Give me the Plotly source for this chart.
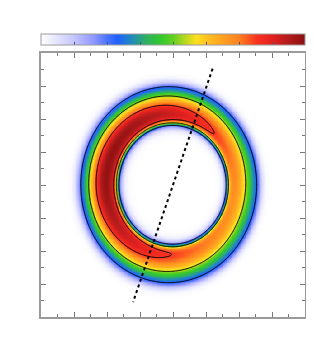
import numpy as np
import plotly.graph_objects as go

# ---- ring field description (data units, axes span -8..8) ----
hole_center = [-0.03, 0.02]      # centre of inner (hole) contour
hole_axes = [3.18, 3.52]         # semi-axes of innermost contour
outer_center = [-0.26, 0.02]     # centre of outer contour
outer_axes = [5.33, 5.94]        # semi-axes of outer contour
peak_angle_deg = [160.0]         # direction of strongest emission
amplitude = [0.856, 0.134]       # mean, angular modulation of peak value
peak_pos = [0.30, 0.07]          # mean, angular modulation of peak radial position
peak_inner_width = [0.6]         # width of profile on the inner side of the peak
rise = [0.066, 0.075, 0.036]     # t0, inner width, outer width of rising edge
halo_width = [0.2]               # extra fall-off outside outer contour
contour_levels = [0.27, 0.54, 0.81]

# dotted cut line end points
cut_x = [2.40, -2.42]
cut_y = [7.05, -7.10]

axis_range = [-8, 8]
colorscale = [
    [0.00, "#ffffff"], [0.12, "#c8c8ff"], [0.20, "#9098ff"], [0.25, "#4a74ff"],
    [0.29, "#2060ff"], [0.35, "#2090b0"], [0.40, "#30b060"], [0.45, "#30c830"],
    [0.50, "#60d020"], [0.55, "#c0d820"], [0.59, "#ffe020"], [0.63, "#ffc020"],
    [0.75, "#ff8020"], [0.82, "#f83020"], [0.88, "#e02020"], [0.93, "#b81c1c"],
    [1.00, "#8c1010"],
]

# ---- build field ----
n = 321
xs = np.linspace(axis_range[0], axis_range[1], n)
ys = np.linspace(axis_range[0], axis_range[1], n)
X, Y = np.meshgrid(xs, ys)

hx, hy = hole_center
DX, DY = X - hx, Y - hy
r = np.hypot(DX, DY)
theta = np.arctan2(DY, DX)
ct, st = np.cos(theta), np.sin(theta)
# distance from hole centre to inner ellipse along the ray
r_in = 1.0 / np.sqrt((ct / hole_axes[0]) ** 2 + (st / hole_axes[1]) ** 2)
# distance from hole centre to outer ellipse along the ray
ox, oy = outer_center
oa, ob = outer_axes
qa = (ct / oa) ** 2 + (st / ob) ** 2
qb = 2 * ((hx - ox) * ct / oa ** 2 + (hy - oy) * st / ob ** 2)
qc = ((hx - ox) / oa) ** 2 + ((hy - oy) / ob) ** 2 - 1
r_out = (-qb + np.sqrt(qb ** 2 - 4 * qa * qc)) / (2 * qa)
t = (r - r_in) / (r_out - r_in)

c = np.cos(theta - np.deg2rad(peak_angle_deg[0]))
A = amplitude[0] + amplitude[1] * c
tp = peak_pos[0] + peak_pos[1] * c
L1 = contour_levels[0]
so = (1.0 - tp) / np.sqrt(-np.log(L1 / A))

t0, k1, k2 = rise
k = np.where(t < t0, k1, k2)
S = 1.0 / (1.0 + np.exp(np.clip(-(t - t0) / k, -50, 50)))
D = np.where(t < tp, np.exp(-((t - tp) / peak_inner_width[0]) ** 2),
             np.exp(-((t - tp) / so) ** 2))
H = np.where(t > 1.0, np.exp(-((t - 1.0) / halo_width[0]) ** 2), 1.0)
Z = np.clip(A * S * D * H, 0, 1)

fig = go.Figure()
fig.add_trace(go.Heatmap(
    x=xs, y=ys, z=Z, zmin=0, zmax=1, colorscale=colorscale, zsmooth="best",
    colorbar=dict(orientation="h", x=0, xanchor="left", y=1.015, yanchor="bottom",
                  len=1, lenmode="fraction", thickness=11, thicknessmode="pixels",
                  xpad=0, ypad=0, outlinecolor="#9a9a9a", outlinewidth=1,
                  ticks="inside", tickvals=[0.125 * i for i in range(1, 8)],
                  ticklen=3, tickcolor="#555", showticklabels=False),
))
fig.add_trace(go.Contour(
    x=xs, y=ys, z=Z, showscale=False, hoverinfo="skip",
    contours=dict(coloring="none", start=contour_levels[0], end=contour_levels[-1],
                  size=contour_levels[1] - contour_levels[0]),
    line=dict(color="black", width=1),
))
fig.add_trace(go.Scatter(x=cut_x, y=cut_y, mode="lines",
                         line=dict(color="black", width=2, dash="dot"),
                         showlegend=False))

ax = dict(range=axis_range, showgrid=False, zeroline=False, showline=True,
          linecolor="#9a9a9a", linewidth=1.5, mirror="allticks", ticks="inside",
          ticklen=5, tickcolor="#777", tickwidth=1, dtick=2, tick0=0,
          showticklabels=False,
          minor=dict(ticks="inside", ticklen=3, dtick=1, tick0=0, tickcolor="#777", showgrid=False))
fig.update_layout(
    width=306, height=346, autosize=False,
    margin=dict(l=33, r=9, t=45, b=37, autoexpand=False),
    paper_bgcolor="white", plot_bgcolor="white",
    xaxis=ax, yaxis=ax, showlegend=False,
)
fig.write_html("out.html")
